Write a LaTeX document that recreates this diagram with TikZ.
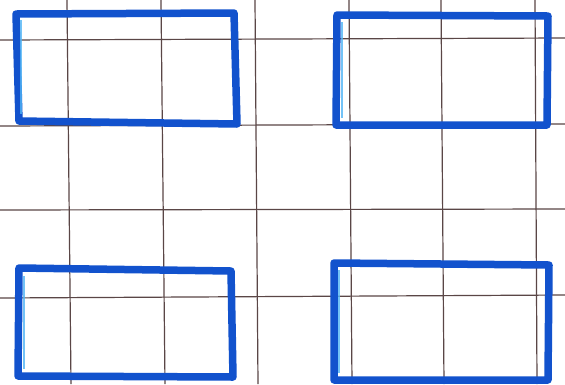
\documentclass[tikz,border=0pt]{standalone}
\begin{document}
\begin{tikzpicture}[x=1pt,y=-1pt,
  gridline/.style={draw={rgb,255:red,90;green,70;blue,70}, line width=1.2pt},
  penbox/.style={draw={rgb,255:red,18;green,82;blue,205}, line width=7.5pt, line join=round, line cap=round},
  penhi/.style={draw={rgb,255:red,80;green,180;blue,245}, line width=2pt, line join=round, opacity=0.8}]
\useasboundingbox[fill=white] (0,0) rectangle (565,384);
% vertical grid lines
\draw[gridline] (67,0) -- (71,384);
\draw[gridline] (161,0) -- (165,384);
\draw[gridline] (255,0) -- (258,384);
\draw[gridline] (349,0) -- (352,384);
\draw[gridline] (441,0) -- (444,384);
\draw[gridline] (535,0) -- (537,384);
% horizontal grid lines
\draw[gridline] (0,40) -- (565,38);
\draw[gridline] (0,126) -- (565,124);
\draw[gridline] (0,210) -- (565,209);
\draw[gridline] (0,298) -- (565,295);
% rectangles
\draw[penbox] (16,14) -- (234,13) -- (237,124) -- (19,121) -- cycle;
\draw[penhi] (21,20) -- (21,114);
\draw[penbox] (337,15) -- (548,16) -- (547,125) -- (336,125) -- cycle;
\draw[penhi] (342,22) -- (342,118);
\draw[penbox] (19,268) -- (231,271) -- (233,377) -- (18,376) -- cycle;
\draw[penhi] (24,276) -- (24,369);
\draw[penbox] (334,263) -- (549,265) -- (548,380) -- (334,380) -- cycle;
\draw[penhi] (339,270) -- (339,373);
\end{tikzpicture}
\end{document}
